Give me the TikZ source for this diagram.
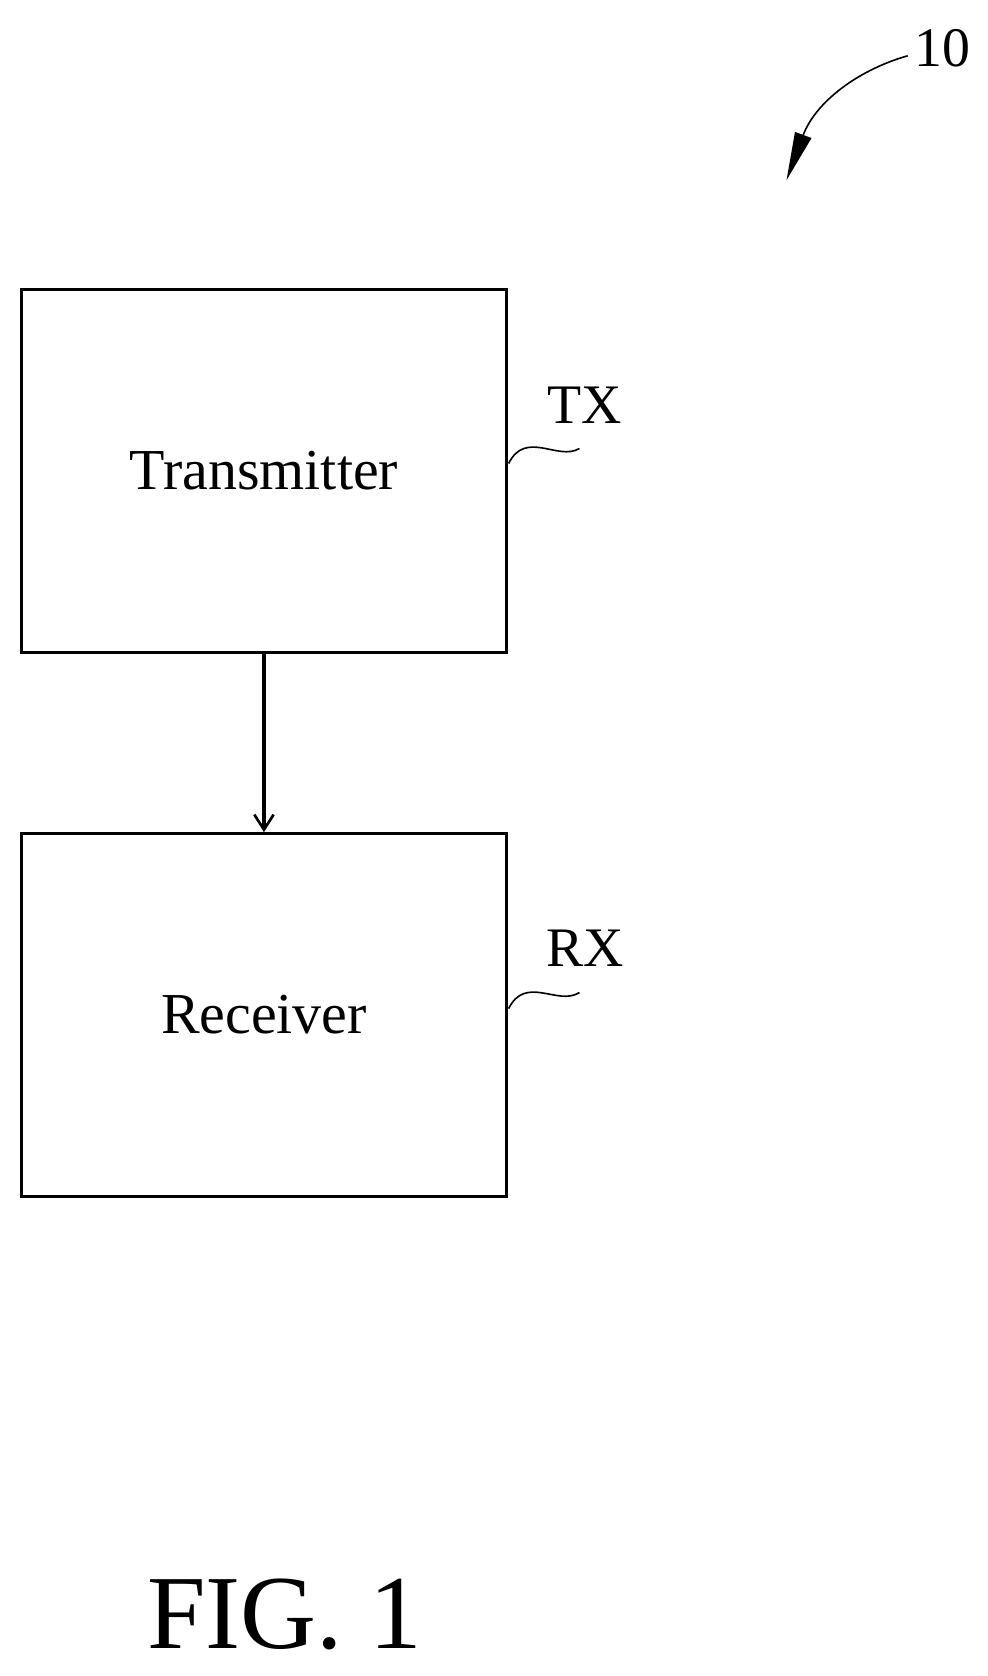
\documentclass[tikz,border=0pt]{standalone}
\usepackage{fontspec}
\setmainfont{Liberation Serif}
\usetikzlibrary{arrows.meta}
\begin{document}
\begin{tikzpicture}[x=1pt,y=-1pt,
 box/.style={draw,line width=3pt,minimum width=452pt,minimum height=338pt,inner sep=0,font=\fontsize{54}{54}\selectfont},
 lbl/.style={font=\fontsize{52}{52}\selectfont,inner sep=0},
 lead/.style={line width=1.5pt}]
\useasboundingbox (0,0) rectangle (920,1562);
\node[box] (tx) at (246,439) {Transmitter};
\node[box] (rx) at (246,946) {Receiver};
\draw[line width=3pt,-{Straight Barb[length=14pt,width=18pt,line width=2.5pt]}] (tx.south) -- (rx.north);
\node[lbl] (txl) at (545,378) {TX};
\node[lbl] (rxl) at (545,884) {RX};
\coordinate (t1) at (474,432); \coordinate (t2) at (540,418);
\draw[lead] (t1) .. controls (490,400) and (520,430) .. (t2);
\coordinate (r1) at (474,940); \coordinate (r2) at (540,925);
\draw[lead] (r1) .. controls (490,908) and (520,938) .. (r2);
\node[lbl] (ten) at (878,45) {10};
\coordinate (a0) at (846,52); \coordinate (a1) at (733,168);
\draw[lead,-{Triangle[length=45pt,width=16pt]}] (a0) .. controls (800,65) and (760,95) .. (a1);
\node[font=\fontsize{98}{98}\selectfont,inner sep=0] (fig) at (265,1505) {FIG. 1};
\end{tikzpicture}
\end{document}
